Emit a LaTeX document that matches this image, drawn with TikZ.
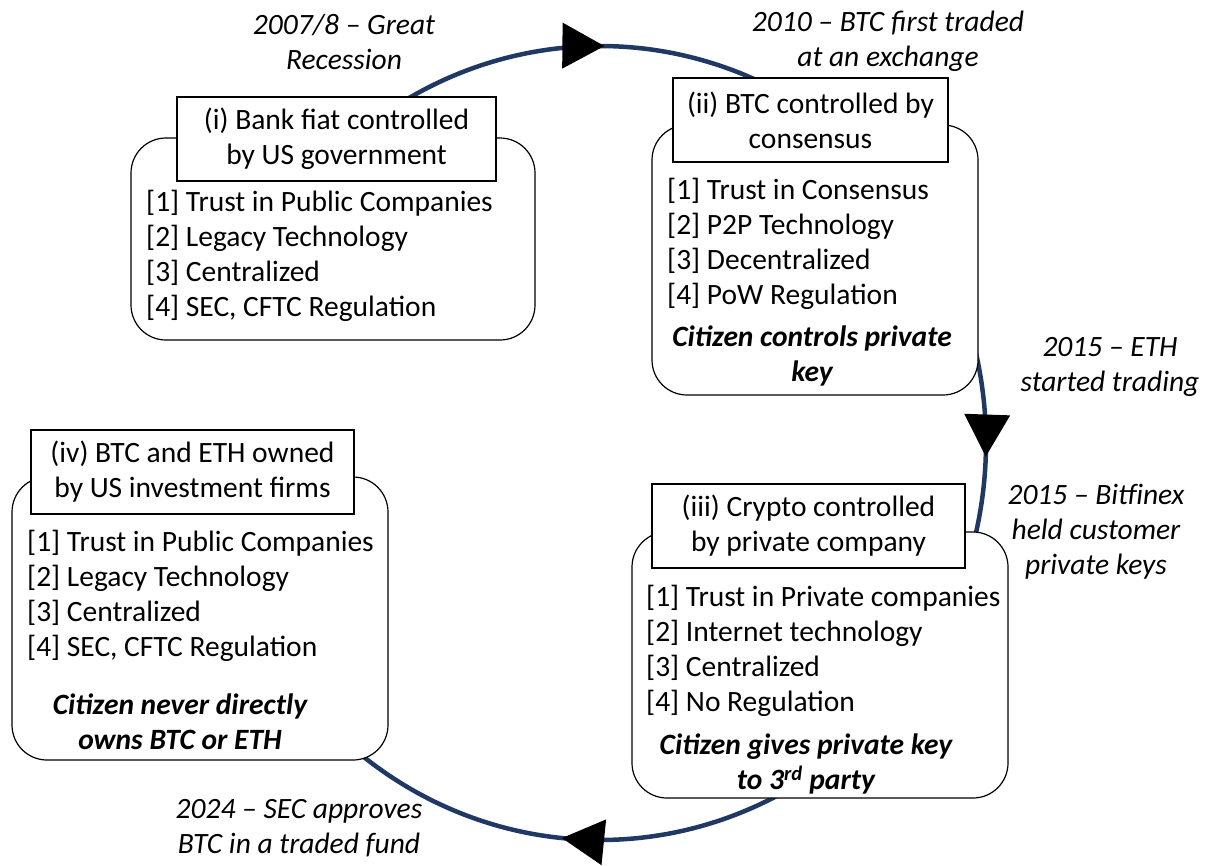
\documentclass[tikz,border=0pt]{standalone}
\usepackage{fontspec}
\setmainfont{Carlito}
\usepackage{xcolor}
\usetikzlibrary{arrows.meta,decorations.markings,positioning}
\definecolor{cyclenavy}{RGB}{31,56,100}

\begin{document}
\begin{tikzpicture}[x = 1pt, y = -1pt,
    every node/.style = {font = \fontsize{29.5}{35}\selectfont},
    stage/.style = {draw, fill = white, rounded corners = 35pt, line width = 1.2pt, inner sep = 0pt},
    heading/.style = {draw, fill = white, align = center, line width = 1.2pt, inner sep = 0pt},
    items/.style = {anchor = west, align = left, inner sep = 0pt},
    note/.style = {align = center, inner sep = 0pt, font = \fontsize{29.5}{35}\selectfont\bfseries\itshape},
    event/.style = {align = center, inner sep = 0pt, font = \fontsize{29.5}{35}\selectfont\itshape},
    >={Triangle[length = 42pt, width = 46pt, line width = 0pt]}]
    \useasboundingbox (0,0) rectangle (1206,865);

    % the cycle, (i) -> (ii) -> (iii) -> (iv)
    \draw[cyclenavy, line width = 4.5pt, postaction = {decorate}, decoration = {markings,
        mark = at position .129 with {\arrow[black]{>}},
        mark = at position .494 with {\arrow[black]{>}},
        mark = at position .868 with {\arrow[black]{>}}}]
        plot[domain = 238:489, samples = 200, smooth] ({600 + 386*cos(\x)}, {443 + 397*sin(\x)});

    % (i)
    \node[stage, minimum width = 404, minimum height = 202] (fiat) at (333,239) {};
    \node[heading, minimum width = 319, minimum height = 84] (fiattitle) at (336.5,139) {(i) Bank fiat controlled\\by US government};
    \node[items] (fiatlist) at (146,256) {[1] Trust in Public Companies\\{}[2] Legacy Technology\\{}[3] Centralized\\{}[4] SEC, CFTC Regulation};

    % (ii)
    \node[stage, minimum width = 326, minimum height = 270] (consensus) at (815,260) {};
    \node[heading, minimum width = 275, minimum height = 84] (consensustitle) at (810.5,120) {(ii) BTC controlled by\\consensus};
    \node[items] (consensuslist) at (667,244) {[1] Trust in Consensus\\{}[2] P2P Technology\\{}[3] Decentralized\\{}[4] PoW Regulation};
    \node[note] (consensusnote) at (812,356) {Citizen controls private\\key};

    % (iii)
    \node[stage, minimum width = 376, minimum height = 266] (custodial) at (820,665) {};
    \node[heading, minimum width = 313, minimum height = 84] (custodialtitle) at (808.5,526) {(iii) Crypto controlled\\by private company};
    \node[items] (custodiallist) at (646,651) {[1] Trust in Private companies\\{}[2] Internet technology\\{}[3] Centralized\\{}[4] No Regulation};
    \node[note] (custodialnote) at (806,764) {Citizen gives private key\\to 3\textsuperscript{rd} party};

    % (iv)
    \node[stage, minimum width = 376, minimum height = 283] (funds) at (200,618.5) {};
    \node[heading, minimum width = 323, minimum height = 84] (fundstitle) at (192.5,472) {(iv) BTC and ETH owned\\by US investment firms};
    \node[items] (fundslist) at (27,596) {[1] Trust in Public Companies\\{}[2] Legacy Technology\\{}[3] Centralized\\{}[4] SEC, CFTC Regulation};
    \node[note] (fundsnote) at (180,722) {Citizen never directly\\owns BTC or ETH};

    % events on the cycle
    \node[event] (recession) at (344,42) {2007/8 -- Great\\Recession};
    \node[event] (exchange) at (888,41) {2010 -- BTC first traded\\at an exchange};
    \node[event] (ethereum) at (1110,367) {2015 -- ETH\\started trading};
    \node[event] (bitfinex) at (1096,532) {2015 -- Bitfinex\\held customer\\private keys};
    \node[event] (approval) at (299,828) {2024 -- SEC approves\\BTC in a traded fund};
\end{tikzpicture}
\end{document}
